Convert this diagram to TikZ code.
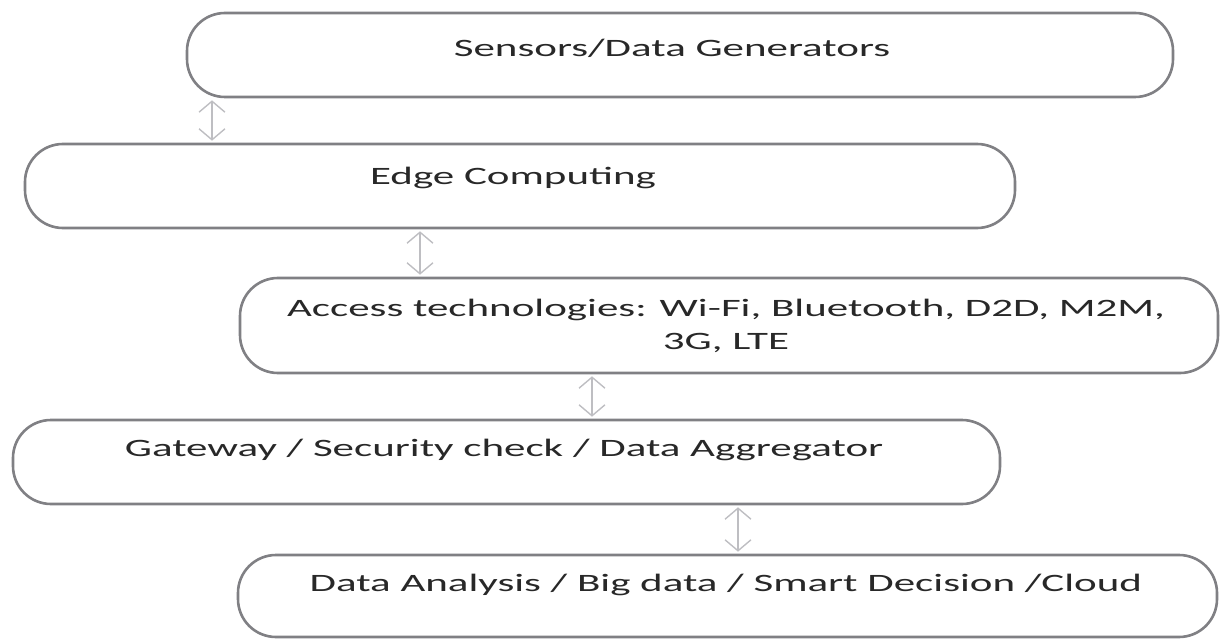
\documentclass[tikz,border=0pt]{standalone}
\usepackage{fontspec}
\setmainfont{Carlito}
\usetikzlibrary{arrows.meta}

\definecolor{boxgray}{RGB}{128,128,132}
\definecolor{arrowgray}{RGB}{190,190,194}
\definecolor{textgray}{RGB}{40,40,40}
\newcommand{\widetext}[1]{\scalebox{1.72}[1]{#1}}

\tikzset{
  layer/.style={draw=boxgray, line width=2.6pt, rounded corners=38pt, fill=white, inner sep=0pt},
  lbl/.style={text=textgray, font=\fontsize{25}{30}\selectfont, inner sep=0pt},
  link/.style={arrowgray, line width=2.8pt, shorten <=2pt, shorten >=2pt, {Straight Barb[length=11pt,width=26pt,line width=1.4pt]}-{Straight Barb[length=11pt,width=26pt,line width=1.4pt]}}
}

\begin{document}
\begin{tikzpicture}[x=1pt,y=-1pt]
		\useasboundingbox (0,0) rectangle (1221,639);
		% Kaesten
		\node[layer, minimum width=986pt, minimum height=84pt] (sensbox) at (680,55) {};
		\node[lbl] (sens) at (672,48) {\widetext{Sensors/Data Generators}};

		\node[layer, minimum width=990pt, minimum height=84pt] (edgebox) at (520,186) {};
		\node[lbl] (edge) at (513,178) {\widetext{Edge Computing}};

		\node[layer, minimum width=978pt, minimum height=95pt] (accbox) at (729,325.5) {};
		\node[lbl, align=center] (acc) at (726,326) {\widetext{Access technologies: Wi-Fi, Bluetooth, D2D, M2M,}\\[3pt] \widetext{3G, LTE}};

		\node[layer, minimum width=987pt, minimum height=84pt] (gatebox) at (506.5,462) {};
		\node[lbl] (gate) at (504,450) {\widetext{Gateway / Security check / Data Aggregator}};

		\node[layer, minimum width=979pt, minimum height=82pt] (databox) at (727.5,596) {};
		\node[lbl] (data) at (726,585) {\widetext{Data Analysis / Big data / Smart Decision /Cloud}};

		% Pfeile
		\foreach \xa/\ua/\ub in {212/sensbox/edgebox, 420/edgebox/accbox, 592/accbox/gatebox, 738/gatebox/databox}
			\draw[link] (\xa,0 |- \ua.south) -- (\xa,0 |- \ub.north);
	\end{tikzpicture}
\end{document}
